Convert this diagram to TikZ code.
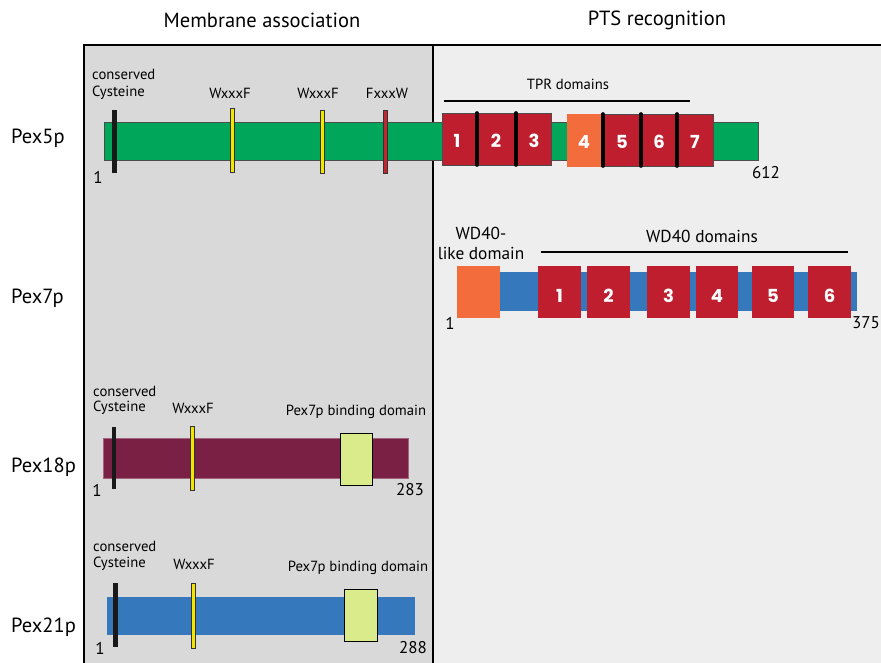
\documentclass[tikz,border=0pt]{standalone}
\usepackage{fontspec}
\setmainfont{PT Sans}
\newfontfamily\boxfont{Poppins}
\definecolor{leftpanel}{HTML}{D9D9D9}
\definecolor{rightpanel}{HTML}{EDEEED}
\definecolor{pexgreen}{HTML}{00A65A}
\definecolor{tprred}{HTML}{BE1E2D}
\definecolor{domorange}{HTML}{F26C3C}
\definecolor{pexblue}{HTML}{3579BC}
\definecolor{maroon}{HTML}{7A2044}
\definecolor{pale}{HTML}{DAEB8B}
\definecolor{motifyellow}{HTML}{F2E600}
\definecolor{motifred}{HTML}{C1272D}
\begin{document}
\begin{tikzpicture}[x=1pt,y=-1pt,
  lbl/.style={inner sep=0pt,font=\fontsize{14.7}{16}\selectfont},
  wdlbl/.style={inner sep=0pt,font=\fontsize{17.3}{19}\selectfont},
  head/.style={inner sep=0pt,font=\fontsize{20.5}{22}\selectfont},
  rowlbl/.style={inner sep=0pt,anchor=west,font=\fontsize{20.5}{22}\selectfont},
  num/.style={inner sep=0pt,font=\fontsize{17}{19}\selectfont},
  boxnum/.style={inner sep=0pt,text=white,font=\boxfont\bfseries\fontsize{18}{20}\selectfont},
  bar/.style={draw=black!70,line width=0.5pt},
  motif/.style={draw=black!80,line width=0.5pt},
  tpr/.style={fill=tprred,draw=black!70,line width=0.5pt},
  sep/.style={line width=3.6pt,line cap=round},
  bindbox/.style={fill=pale,draw=black,line width=0.8pt}]
\useasboundingbox (0,0) rectangle (881,663);
% panels
\fill[leftpanel] (84,45) rectangle (433,663);
\fill[rightpanel] (433,45) rectangle (881,663);
\draw[line width=1.5pt] (84,663) -- (84,45) -- (881,45);
\draw[line width=1.2pt] (433,45) -- (433,663);
% headers
\node[head] (hmem) at (262,20) {Membrane association};
\node[head] (hpts) at (657,20) {PTS recognition};
% row labels
\node[rowlbl] (r5) at (11,138) {Pex5p};
\node[rowlbl] (r7) at (11,298) {Pex7p};
\node[rowlbl] (r18) at (11,467) {Pex18p};
\node[rowlbl] (r21) at (11,627) {Pex21p};
% ===== Pex5p =====
\fill[pexgreen] (104,122) rectangle (758,160);
\draw[bar] (104,122) rectangle (758,160);
\fill[black!90] (112,110) rectangle (117,173);
\filldraw[fill=motifyellow,motif] (230,108) rectangle (234,172);
\filldraw[fill=motifyellow,motif] (320,110) rectangle (324,173);
\filldraw[fill=motifred,motif] (383,110) rectangle (387,173);
\node[lbl,anchor=west] (c5a) at (92,74) {conserved};
\node[lbl,anchor=west] (c5b) at (92,93) {Cysteine};
\node[lbl] (w5a) at (230,93) {WxxxF};
\node[lbl] (w5b) at (318,93) {WxxxF};
\node[lbl] (f5) at (387,93) {FxxxW};
\node[num] (s5) at (98,177) {1};
\node[num] (e5) at (766,173) {612};
% TPR
\draw[line width=1.5pt] (444,101) -- (690,101);
\node[lbl] (tprl) at (568,84) {TPR domains};
\draw[tpr] (442,113) rectangle (551,165);
\fill[domorange] (567,114) rectangle (603,167);
\draw[tpr] (603,114) rectangle (713,166);
\node[boxnum] (t1) at (457,141) {1};
\node[boxnum] (t2) at (496,141) {2};
\node[boxnum] (t3) at (534,141) {3};
\node[boxnum] (t4) at (584,142) {4};
\node[boxnum] (t5) at (622,142) {5};
\node[boxnum] (t6) at (659,142) {6};
\node[boxnum] (t7) at (695,142) {7};
\foreach \x/\a/\b in {477/113/165,516/113/165,603/114/166,641/114/166,677/114/166}
  \draw[sep] (\x,\a) -- (\x,\b);
% ===== Pex7p =====
\fill[pexblue] (457,272) rectangle (857,311);
\fill[domorange] (457,266) rectangle (500,318);
\foreach \a/\b/\n in {538/581/1,587/630/2,647/690/3,696/738/4,752/794/5,808/851/6}{
  \fill[tprred] (\a,266) rectangle (\b,318);
  \node[boxnum] (w\n) at ({(\a+\b)/2},296) {\n};
}
\draw[line width=1.5pt] (541,252) -- (848,252);
\node[wdlbl] (wdl) at (702,236) {WD40 domains};
\node[wdlbl] (wla) at (481,233) {WD40-};
\node[wdlbl] (wlb) at (481,253) {like domain};
\node[num] (s7) at (450,323) {1};
\node[num] (e7) at (866,323) {375};
% ===== Pex18p =====
\filldraw[fill=maroon,draw=maroon!70] (103,438) rectangle (408,478);
\fill[black!90] (112,427) rectangle (116,489);
\filldraw[fill=motifyellow,motif] (190,426) rectangle (194,490);
\draw[bindbox] (340,433) rectangle (372,485);
\node[lbl,anchor=west] (c18a) at (93,391) {conserved};
\node[lbl,anchor=west] (c18b) at (93,408) {Cysteine};
\node[lbl] (w18) at (193,408) {WxxxF};
\node[lbl] (b18) at (356,412) {Pex7p binding domain};
\node[num] (s18) at (97,490) {1};
\node[num] (e18) at (410,490) {283};
% ===== Pex21p =====
\fill[pexblue] (107,597) rectangle (415,635);
\fill[black!90] (113,583) rectangle (118,647);
\filldraw[fill=motifyellow,motif] (191,583) rectangle (195,648);
\draw[bindbox] (344,589) rectangle (377,641);
\node[lbl,anchor=west] (c21a) at (93,546) {conserved};
\node[lbl,anchor=west] (c21b) at (93,564) {Cysteine};
\node[lbl] (w21) at (194,564) {WxxxF};
\node[lbl] (b21) at (358,568) {Pex7p binding domain};
\node[num] (s21) at (100,648) {1};
\node[num] (e21) at (413,648) {288};
\end{tikzpicture}
\end{document}
